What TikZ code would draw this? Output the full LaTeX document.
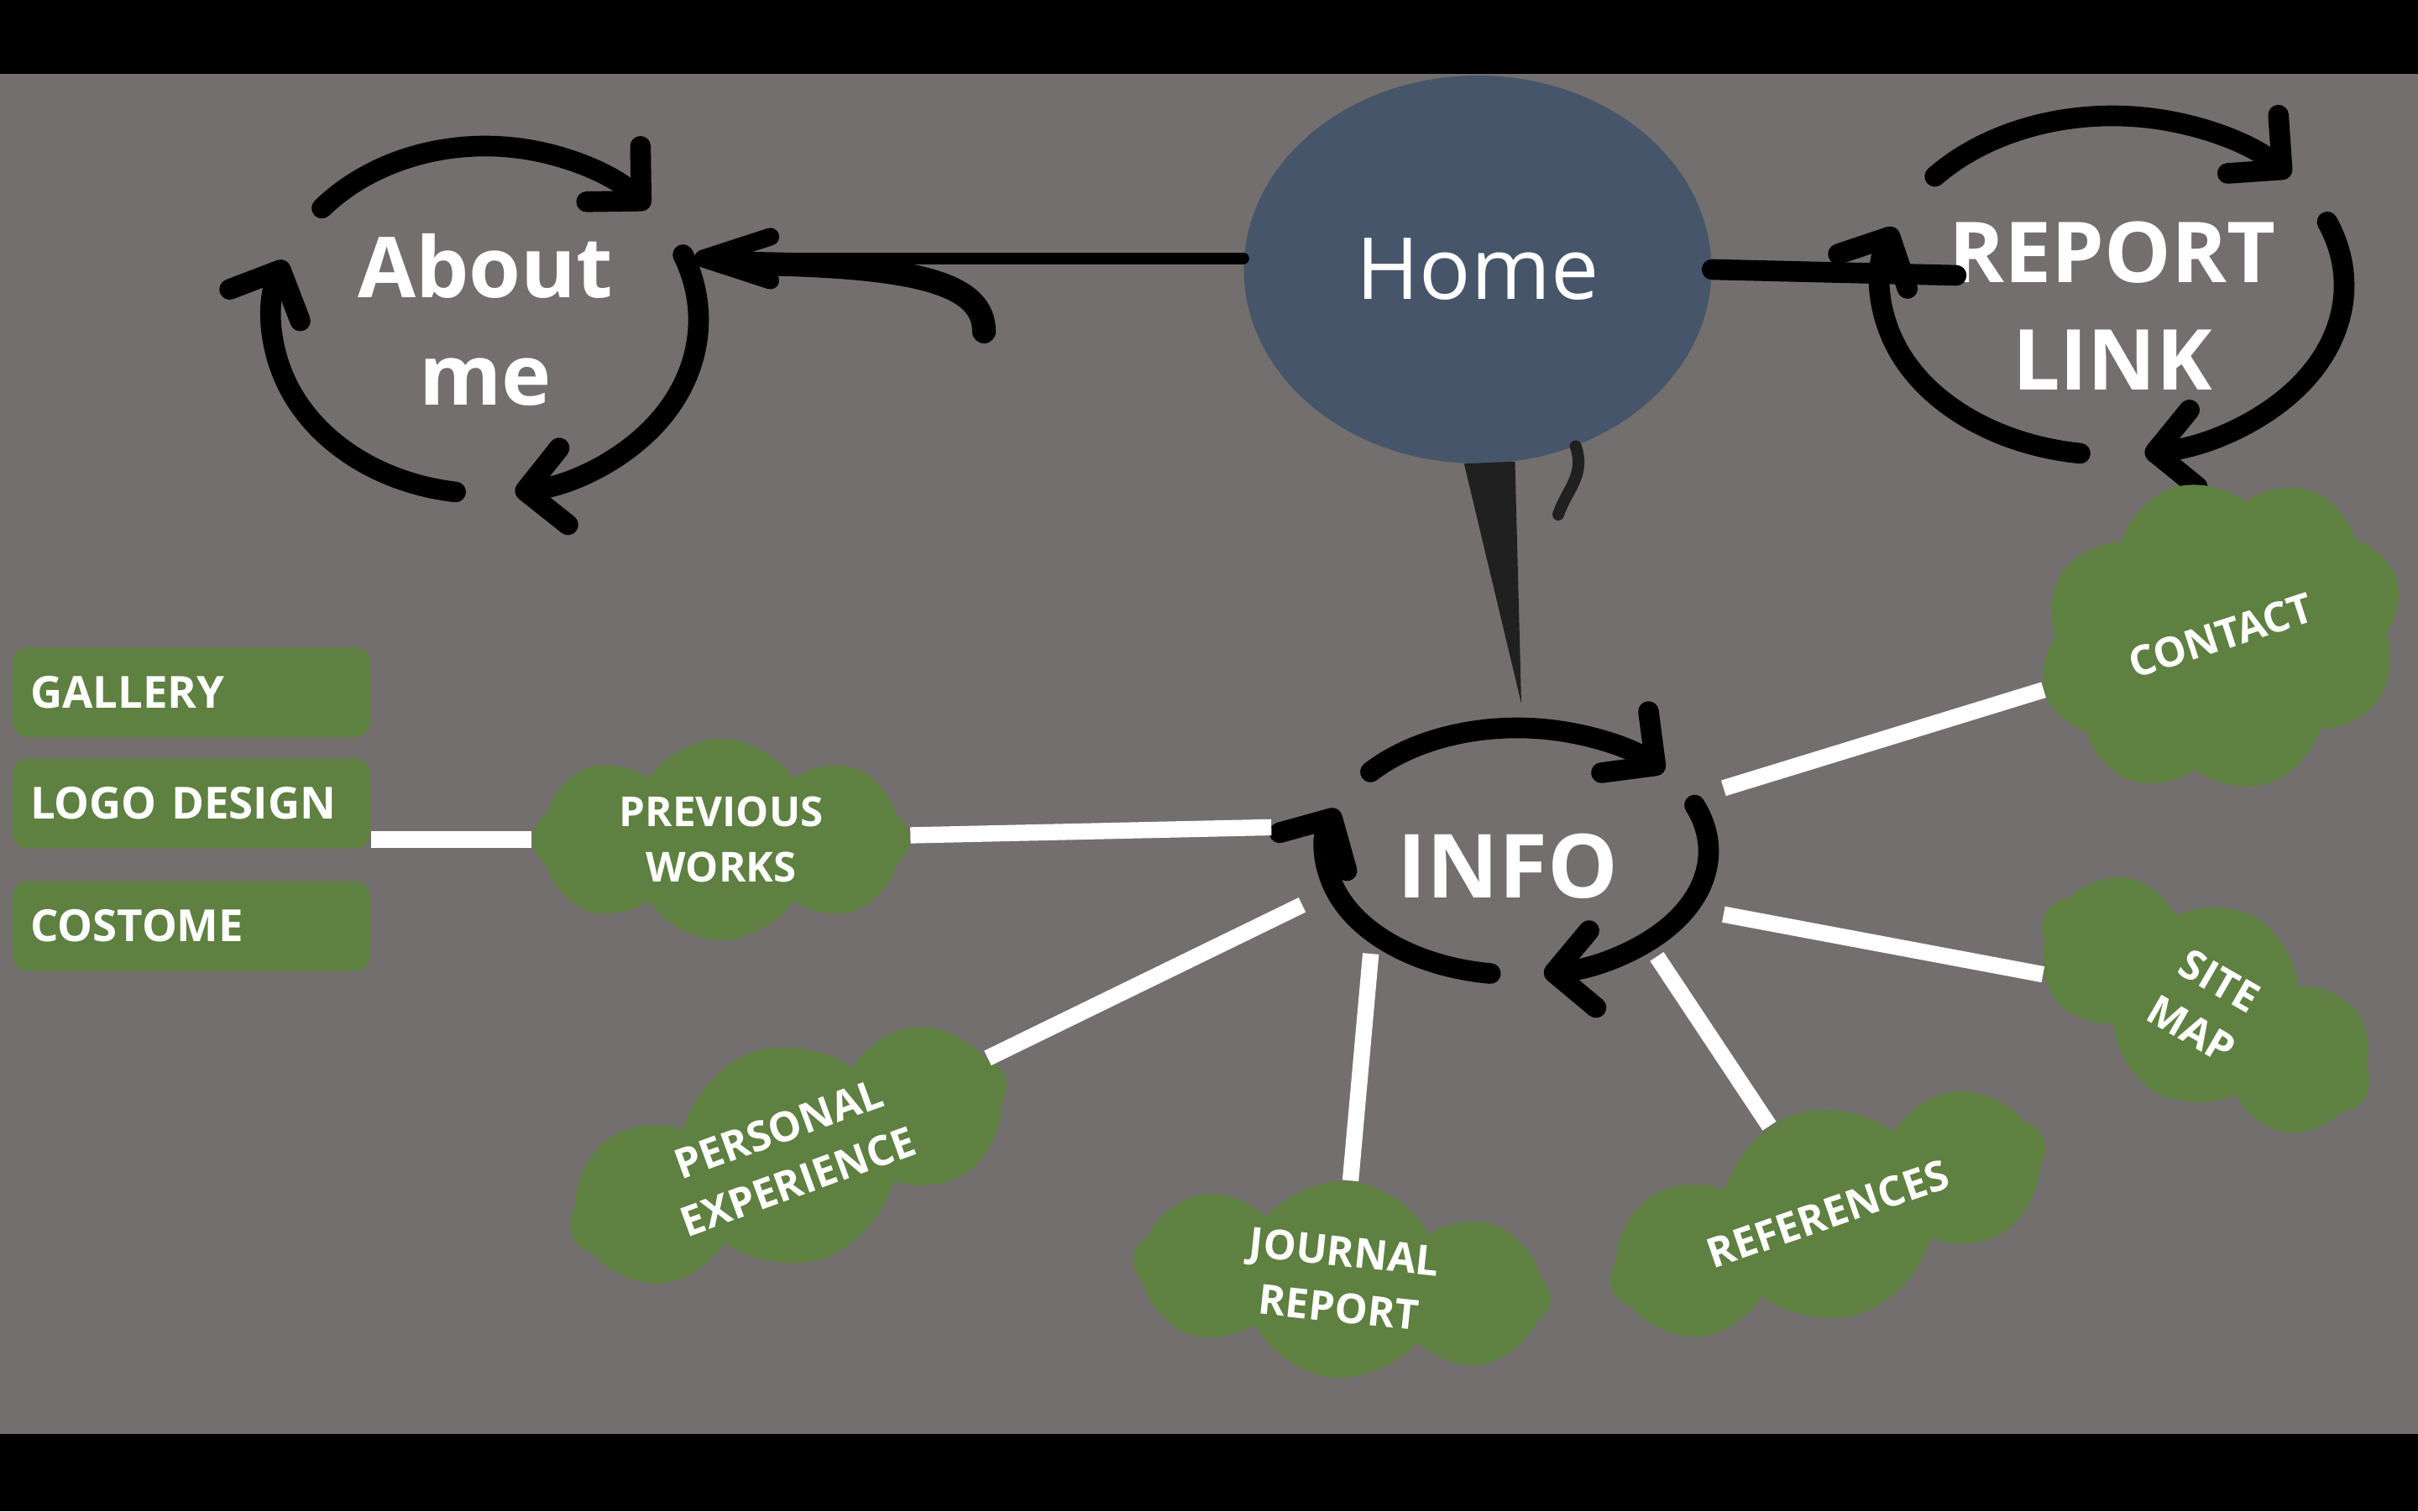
\documentclass[tikz,border=0pt]{standalone}
\usepackage{fontspec}
\setmainfont{Open Sans}
\usetikzlibrary{arrows.meta,shapes.geometric,shapes.symbols}
\definecolor{slate}{HTML}{736F6E}
\definecolor{homeblue}{HTML}{47556A}
\definecolor{leaf}{HTML}{5E8040}
\definecolor{ink}{HTML}{202020}

\begin{document}
\begin{tikzpicture}[line cap=round,line join=round,text=white,
  big/.style={font=\bfseries\fontsize{28.5}{36.5}\selectfont,align=center},
  puff/.style={cloud,cloud puffs=8,cloud puff arc=115,cloud ignores aspect,fill=leaf,align=center,inner sep=0pt,
    font=\bfseries\fontsize{14}{19}\selectfont},
  tab/.style={fill=leaf,rounded corners=5pt,minimum height=1.07cm,text width=3.84cm,inner xsep=0.21cm,
    align=left,font=\bfseries\fontsize{15}{19}\selectfont},
  wire/.style={white,line width=5.5pt,line cap=butt},
  cyc/.style={line width=7pt,-{Straight Barb[round,length=4.6mm,width=9.2mm,line width=7pt]}},
  pics/spin/.style 2 args={code={
    \draw[cyc] (140:#1 and #2) arc[start angle=140,end angle=40,x radius=#1,y radius=#2];
    \draw[cyc] (22:#1 and #2) arc[start angle=22,end angle=-82,x radius=#1,y radius=#2];
    \draw[cyc] (262:#1 and #2) arc[start angle=262,end angle=160,x radius=#1,y radius=#2];
  }}]
\path[use as bounding box] (0,0) rectangle (28.8,18);
\fill[black] (0,0) rectangle (28.8,18);
\fill[slate] (0,0.92) rectangle (28.8,17.12);
% top row
\node[ellipse,fill=homeblue,minimum width=5.57cm,minimum height=4.62cm,font=\fontsize{29}{35}\selectfont] (home) at (17.6,14.79) {Home};
\node[big] (about) at (5.78,14.19) {About\\me};
\node[big] (report) at (25.16,14.36) {REPORT\\LINK};
\pic at (about) {spin={2.54}{2.07}};
\pic at ([yshift=2.4mm]report) {spin={2.76}{2.02}};
% centre
\node[font=\bfseries\fontsize{30}{36}\selectfont] (info) at (17.96,7.68) {INFO};
\node[ellipse,minimum width=5.6cm,minimum height=3.1cm] (ring) at (18.07,7.86) {};
\pic at (ring) {spin={2.28}{1.47}};
% clouds
\node[puff,minimum width=4.5cm,minimum height=2.4cm] (prev) at (8.59,8.0) {PREVIOUS\\WORKS};
\node[puff,rotate=18,minimum width=4.4cm,minimum height=3.7cm] (contact) at (26.45,10.43) {CONTACT};
\node[puff,rotate=-30,minimum width=4.4cm,minimum height=2.4cm] (sitemap) at (26.27,6.03) {SITE\\MAP};
\node[puff,rotate=20,minimum width=5.5cm,minimum height=2.6cm] (personal) at (9.39,4.24) {PERSONAL\\EXPERIENCE};
\node[puff,rotate=-6,minimum width=5.0cm,minimum height=2.35cm] (journal) at (15.98,2.76) {JOURNAL\\REPORT};
\node[puff,rotate=19,minimum width=5.45cm,minimum height=2.5cm] (refs) at (21.77,3.54) {REFERENCES};
% left column
\node[tab] (gallery) at (2.28,9.755) {GALLERY};
\node[tab] (logo) at (2.28,8.43) {LOGO DESIGN};
\node[tab] (costome) at (2.28,6.97) {COSTOME};
% links
\coordinate (aboutin) at (8.27,14.92);
\coordinate (hookend) at (11.72,14.05);
\coordinate (reportin) at (23.3,14.72);
\coordinate (infotop) at (18.12,9.62);
\coordinate (curlend) at (18.56,11.87);
\draw[line width=4pt,-{Straight Barb[round,length=8mm,width=5.2mm,line width=6pt]}] (home.west|-aboutin) -- (aboutin);
\draw[line width=8pt] ([shift={(0.6,-0.06)}]aboutin) .. controls (11.0,14.84) and (11.72,14.6) .. (hookend);
\draw[line width=7pt] (home.east) -- (reportin);
\fill[ink] (home.266) -- (home.281) -- (infotop) -- cycle;
\draw[ink,line width=4pt] (home.-61) .. controls +(0.12,-0.35) and +(0.1,0.3) .. (curlend);
\draw[wire,shorten <=1.7mm] (ring.174) -- (prev);
\draw[wire] (prev.west) -- (prev.west-|logo.east);
\draw[wire] (ring.194) -- (personal);
\draw[wire] (ring.215) -- (journal);
\draw[wire] (ring.323) -- (refs);
\draw[wire] (ring.343) -- (sitemap);
\draw[wire] (ring.17) -- (contact);
\end{tikzpicture}
\end{document}
